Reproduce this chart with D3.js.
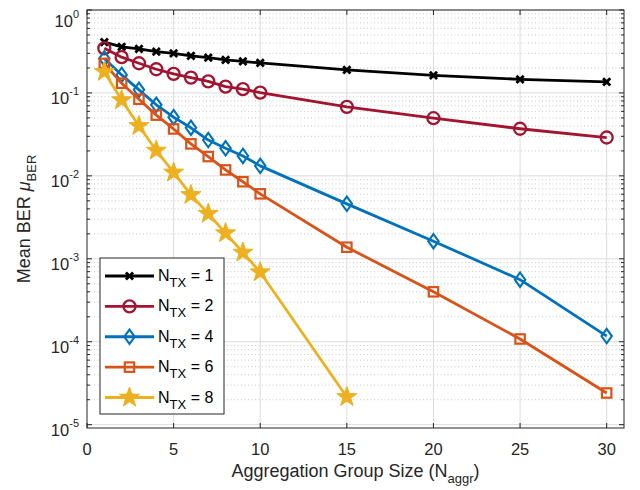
<!DOCTYPE html>
<html>
<head>
<meta charset="utf-8">
<script src="https://cdn.jsdelivr.net/npm/d3@7"></script>
<style>
  body { margin: 0; background: #fff; }
  svg { display: block; font-family: "Liberation Sans", Arial, sans-serif; }
</style>
</head>
<body>
<svg id="render" width="640" height="490"></svg>
<script>
// x positions (aggregation group size)
const xVals = [1, 2, 3, 4, 5, 6, 7, 8, 9, 10, 15, 20, 25, 30];
const xValsTx8 = [1, 2, 3, 4, 5, 6, 7, 8, 9, 10, 15];

// mean BER per N_TX
const ber1 = [0.41, 0.36, 0.34, 0.315, 0.30, 0.28, 0.266, 0.25, 0.24, 0.23, 0.19, 0.163, 0.146, 0.136];
const ber2 = [0.345, 0.27, 0.228, 0.193, 0.17, 0.153, 0.138, 0.119, 0.111, 0.101, 0.068, 0.0496, 0.037, 0.029];
const ber4 = [0.26, 0.165, 0.109, 0.072, 0.051, 0.038, 0.027, 0.0215, 0.0174, 0.0132, 0.0046, 0.00163, 0.00056, 0.000117];
const ber6 = [0.227, 0.131, 0.084, 0.054, 0.0368, 0.0243, 0.0171, 0.0118, 0.0085, 0.00607, 0.00138, 0.0004, 0.000108, 0.0000241];
const ber8 = [0.18, 0.082, 0.04, 0.0202, 0.011, 0.0059, 0.0035, 0.00204, 0.00119, 0.00069, 0.0000216];

const legendLabels = ['1', '2', '4', '6', '8'];
const xTicks = [0, 5, 10, 15, 20, 25, 30];
const yExps = [0, -1, -2, -3, -4, -5];

const series = [
  {xs: xVals, ys: ber1, color: '#000000', marker: 'x'},
  {xs: xVals, ys: ber2, color: '#A2142F', marker: 'circle'},
  {xs: xVals, ys: ber4, color: '#0072BD', marker: 'diamond'},
  {xs: xVals, ys: ber6, color: '#D95319', marker: 'square'},
  {xs: xValsTx8, ys: ber8, color: '#EDB120', marker: 'star'}
];

let svg = d3.select('#render');
let pLeft = 87, pRight = 624, pTop = 10, pBottom = 428;

let x = d3.scaleLinear().domain([0, 31]).range([pLeft, pRight]);
let y = d3.scaleLog().domain([Math.pow(10, -5.04), 1]).range([pBottom, pTop]);

let grid = svg.append('g');
let plot = svg.append('g');
let axes = svg.append('g');

// minor grid (dotted)
let minorVals = [];
for (let e = -5; e < 0; e++) {
  for (let k = 2; k <= 9; k++) minorVals.push(k * Math.pow(10, e));
}
grid.selectAll('.minor')
  .data(minorVals)
  .join('line')
  .attr('class', 'minor')
  .attr('x1', pLeft).attr('x2', pRight)
  .attr('y1', d => y(d)).attr('y2', d => y(d))
  .style('stroke', '#bdbdbd')
  .style('stroke-width', 0.8)
  .style('stroke-dasharray', '1,2.5');

// major grid
grid.selectAll('.hmajor')
  .data(yExps)
  .join('line')
  .attr('x1', pLeft).attr('x2', pRight)
  .attr('y1', d => y(Math.pow(10, d))).attr('y2', d => y(Math.pow(10, d)))
  .style('stroke', '#dcdcdc')
  .style('stroke-width', 1);
grid.selectAll('.vmajor')
  .data(xTicks.slice(1))
  .join('line')
  .attr('x1', d => x(d)).attr('x2', d => x(d))
  .attr('y1', pTop).attr('y2', pBottom)
  .style('stroke', '#dcdcdc')
  .style('stroke-width', 1);

// markers
function drawMarker(g, type, color, cx, cy) {
  if (type === 'x') {
    let s = 3.6;
    g.append('path')
      .attr('d', `M${cx - s},${cy - s}L${cx + s},${cy + s}M${cx - s},${cy + s}L${cx + s},${cy - s}`)
      .style('stroke', color).style('stroke-width', 2.8).style('fill', 'none');
  } else if (type === 'circle') {
    g.append('circle').attr('cx', cx).attr('cy', cy).attr('r', 6)
      .style('fill', 'none').style('stroke', color).style('stroke-width', 2.3);
  } else if (type === 'diamond') {
    let w = 5.2, h = 7.2;
    g.append('path')
      .attr('d', `M${cx},${cy - h}L${cx + w},${cy}L${cx},${cy + h}L${cx - w},${cy}Z`)
      .style('fill', 'none').style('stroke', color).style('stroke-width', 2.1);
  } else if (type === 'square') {
    let s = 4.7;
    g.append('rect').attr('x', cx - s).attr('y', cy - s).attr('width', 2 * s).attr('height', 2 * s)
      .style('fill', 'none').style('stroke', color).style('stroke-width', 2.2);
  } else if (type === 'star') {
    let pts = [];
    for (let i = 0; i < 10; i++) {
      let r = i % 2 === 0 ? 10.5 : 4.2;
      let a = -Math.PI / 2 + i * Math.PI / 5;
      pts.push([cx + r * Math.cos(a), cy + r * Math.sin(a)]);
    }
    g.append('path').attr('d', 'M' + pts.join('L') + 'Z')
      .style('fill', color).style('stroke', color).style('stroke-width', 1);
  }
}

let line = d3.line().x(d => x(d[0])).y(d => y(d[1]));

series.forEach(s => {
  let pts = s.xs.map((v, i) => [v, s.ys[i]]);
  plot.append('path')
    .datum(pts)
    .attr('d', line)
    .style('fill', 'none')
    .style('stroke', s.color)
    .style('stroke-width', 2.8)
    .style('stroke-linejoin', 'round');
  let mg = plot.append('g');
  pts.forEach(p => drawMarker(mg, s.marker, s.color, x(p[0]), y(p[1])));
});

// axes box
axes.append('rect')
  .attr('x', pLeft).attr('y', pTop)
  .attr('width', pRight - pLeft).attr('height', pBottom - pTop)
  .style('fill', 'none').style('stroke', '#262626').style('stroke-width', 1);

// x ticks (inward, top and bottom)
axes.selectAll('.xt')
  .data(xTicks)
  .join('path')
  .attr('d', d => `M${x(d)},${pBottom}v-5M${x(d)},${pTop}v5`)
  .style('stroke', '#262626');
axes.selectAll('.xl')
  .data(xTicks)
  .join('text')
  .attr('x', d => x(d)).attr('y', pBottom + 27)
  .attr('text-anchor', 'middle')
  .style('font-size', '16.5px').style('fill', '#262626')
  .text(d => d);

// y ticks
axes.selectAll('.yt')
  .data(yExps)
  .join('path')
  .attr('d', d => `M${pLeft},${y(Math.pow(10, d))}h5M${pRight},${y(Math.pow(10, d))}h-5`)
  .style('stroke', '#262626');
axes.selectAll('.ymt')
  .data(minorVals)
  .join('path')
  .attr('d', d => `M${pLeft},${y(d)}h3M${pRight},${y(d)}h-3`)
  .style('stroke', '#262626');
let yl = axes.selectAll('.yl')
  .data(yExps)
  .join('text')
  .attr('x', pLeft - 8).attr('y', d => Math.max(y(Math.pow(10, d)) + 11, 27))
  .attr('text-anchor', 'end')
  .style('font-size', '16.5px').style('fill', '#262626');
yl.append('tspan').text('10');
yl.append('tspan').attr('dy', -9).style('font-size', '11px').text(d => d);

// axis labels
let xlab = axes.append('text')
  .attr('x', (pLeft + pRight) / 2).attr('y', 477)
  .attr('text-anchor', 'middle')
  .style('font-size', '18px').style('fill', '#262626');
xlab.append('tspan').text('Aggregation Group Size (N');
xlab.append('tspan').attr('dy', 6).style('font-size', '13px').text('aggr');
xlab.append('tspan').attr('dy', -6).text(')');

let ylab = axes.append('text')
  .attr('transform', `translate(30,${(pTop + pBottom) / 2}) rotate(-90)`)
  .attr('text-anchor', 'middle')
  .style('font-size', '18px').style('fill', '#262626');
ylab.append('tspan').text('Mean BER ');
ylab.append('tspan').style('font-style', 'italic').text('μ');
ylab.append('tspan').attr('dy', 6).style('font-size', '13px').text('BER');

// legend
let lg = svg.append('g');
lg.append('rect')
  .attr('x', 100).attr('y', 258).attr('width', 124).attr('height', 156)
  .style('fill', '#fff').style('stroke', '#262626').style('stroke-width', 1);
let ly = d3.scaleLinear().domain([0, 4]).range([276, 397.5]);
series.forEach((s, i) => {
  let yy = ly(i);
  lg.append('line').attr('x1', 105).attr('x2', 154).attr('y1', yy).attr('y2', yy)
    .style('stroke', s.color).style('stroke-width', 2.8);
  drawMarker(lg, s.marker, s.color, 129.5, yy);
  let t = lg.append('text').attr('x', 158).attr('y', yy + 5)
    .style('font-size', '16px').style('fill', '#000');
  t.append('tspan').text('N');
  t.append('tspan').attr('dy', 6).style('font-size', '13px').text('TX');
  t.append('tspan').attr('dy', -6).text(' = ' + legendLabels[i]);
});
</script>
</body>
</html>
